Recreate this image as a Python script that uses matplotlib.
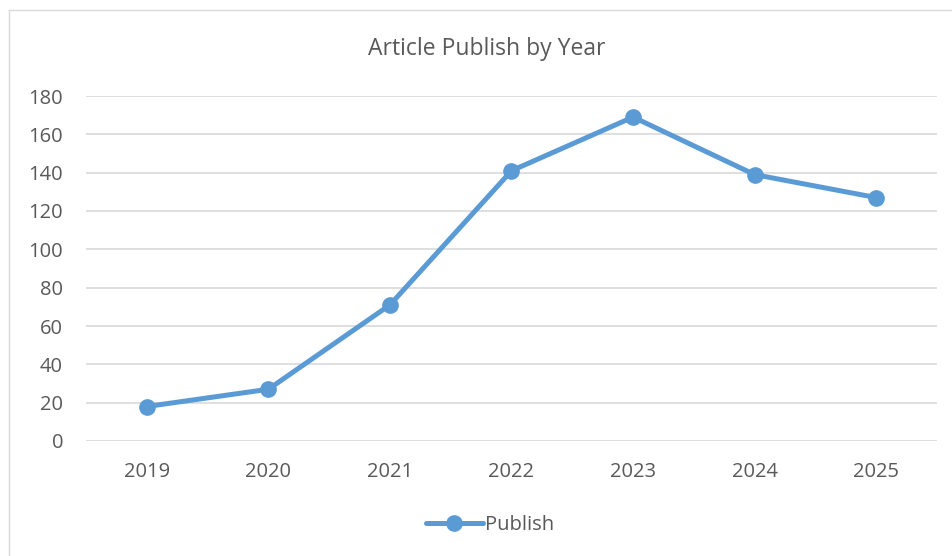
import matplotlib
matplotlib.use('Agg')
from matplotlib import pyplot as plt
from matplotlib.lines import Line2D
import numpy as np

years = ['2019', '2020', '2021', '2022', '2023', '2024', '2025']
publish = [18, 27, 71, 141, 169, 139, 127]
y_ticks = [0, 20, 40, 60, 80, 100, 120, 140, 160, 180]

plt.rcParams['font.family'] = ['Open Sans', 'DejaVu Sans']
text_color = '#595959'
blue = '#5b9bd5'

fig = plt.figure(figsize=(9.53, 5.56), dpi=100)
ax = fig.add_axes([86/953, 1 - 441/556, (937 - 86)/953, (441 - 96)/556])

x = np.arange(len(years))
ax.plot(x, publish, color=blue, linewidth=3.6, marker='o', markersize=11,
        solid_capstyle='round', label='Publish', zorder=3)

ax.set_xlim(-0.5, len(years) - 0.5)
ax.set_ylim(0, 180)
ax.set_xticks(x)
ax.set_xticklabels(years)
ax.set_yticks(y_ticks)
ax.tick_params(axis='both', length=0, colors=text_color, labelsize=14.5)
ax.tick_params(axis='x', pad=15)
ax.tick_params(axis='y', pad=16.5)
ax.grid(axis='y', color='#d9d9d9', linewidth=1.2)
ax.set_axisbelow(True)
for s in ax.spines.values():
    s.set_visible(False)

fig.text(487/953, 1 - 49/556, 'Article Publish by Year', ha='center', va='center',
         fontsize=16.5, color=text_color)

leg = fig.legend(loc='center', bbox_to_anchor=(490/953, 1 - 525/556), frameon=False,
                 fontsize=14.5, handlelength=2.8, handletextpad=0.1)
for t in leg.get_texts():
    t.set_color(text_color)

# chart border (top and left edges visible)
fig.add_artist(Line2D([9/953, 1], [1 - 10/556, 1 - 10/556], transform=fig.transFigure,
                      color='#d9d9d9', linewidth=1))
fig.add_artist(Line2D([9/953, 9/953], [0, 1 - 10/556], transform=fig.transFigure,
                      color='#d9d9d9', linewidth=1))

fig.savefig('out.png', dpi=100)
